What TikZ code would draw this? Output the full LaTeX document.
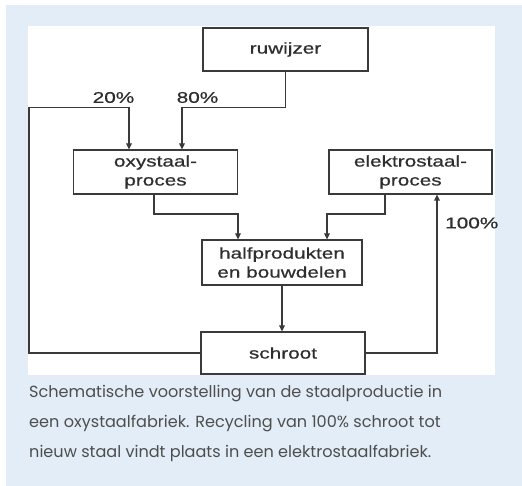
\documentclass[tikz,border=0pt]{standalone}
\usepackage{fontspec}
\setmainfont{Liberation Sans}
\newfontfamily\boxfont[FakeStretch=1.34,FakeBold=0.6]{Liberation Sans}
\newfontfamily\capfont{Poppins}
\usetikzlibrary{arrows.meta,positioning,calc}
\definecolor{panelc}{HTML}{E3EDF7}
\definecolor{linec}{HTML}{3A3A3A}
\definecolor{textc}{HTML}{2E2E2E}
\definecolor{capc}{HTML}{4E4E4E}
\tikzset{
  stepbox/.style={draw=linec,line width=1.1pt,fill=white,inner sep=0pt,
    align=center,text=textc,font=\boxfont\fontsize{15.5}{19}\selectfont},
  pct/.style={text=textc,inner sep=0pt,font=\boxfont\fontsize{15.5}{19}\selectfont},
  arr/.style={draw=linec,line width=1.1pt,-{Triangle[length=6pt,width=5.5pt]}},
  captext/.style={text=capc,inner sep=0pt,font=\capfont\fontsize{16.1}{18}\selectfont}
}

\begin{document}
\begin{tikzpicture}[x=1pt,y=-1pt]
    \useasboundingbox (0,0) rectangle (522,486);
    \fill[panelc] (6,5) rectangle (522,486);
    \fill[white] (28,26) rectangle (495,375);
    % boxes
    \node[stepbox,minimum width=165pt,minimum height=43pt] (ruw) at (285.5,49.5) {ruwijzer};
    \node[stepbox,minimum width=164pt,minimum height=44pt] (oxy) at (155.5,172) {oxystaal-\\proces};
    \node[stepbox,minimum width=163pt,minimum height=44pt] (elek) at (410.5,172) {elektrostaal-\\proces};
    \node[stepbox,minimum width=160pt,minimum height=45pt] (half) at (282,262.5) {halfprodukten\\en bouwdelen};
    \node[stepbox,minimum width=164pt,minimum height=42pt] (schroot) at (283,353) {schroot};
    % bends
    \coordinate (lcorner) at (29,107.5);
    \coordinate (k20) at (129,107.5);
    \coordinate (k80) at (182,107.5);
    \coordinate (ohx) at (154,214);
    \coordinate (hlx) at (238,214);
    \coordinate (ehx) at (385,214);
    \coordinate (hrx) at (327,214);
    \coordinate (rx) at (437,353);
    % flows
    \draw[arr] (ruw.south) |- (k80) -- (k80 |- oxy.north);
    \draw[arr] (schroot.west) -| (lcorner) -- (k20) -- (k20 |- oxy.north);
    \draw[arr] (ohx |- oxy.south) -- (ohx) -- (hlx) -- (hlx |- half.north);
    \draw[arr] (ehx |- elek.south) -- (ehx) -- (hrx) -- (hrx |- half.north);
    \draw[arr] (half.south) -- (half.south |- schroot.north);
    \draw[arr] (schroot.east) -- (rx) -- (rx |- elek.south);
    \node[pct] (l20) at (113.5,97.5) {20\%};
    \node[pct] (l80) at (197.5,97.5) {80\%};
    \node[pct,anchor=west] (l100) at (445,223) {100\%};
    % caption
    \foreach \i/\txt in {0/{Schematische voorstelling van de staalproductie in},
      1/{een oxystaalfabriek. Recycling van 100\% schroot tot},
      2/{nieuw staal vindt plaats in een elektrostaalfabriek.}} {
      \node[captext,anchor=base west] (cap\i) at (29,{397+30*\i}) {\txt};
    }
\end{tikzpicture}
\end{document}
